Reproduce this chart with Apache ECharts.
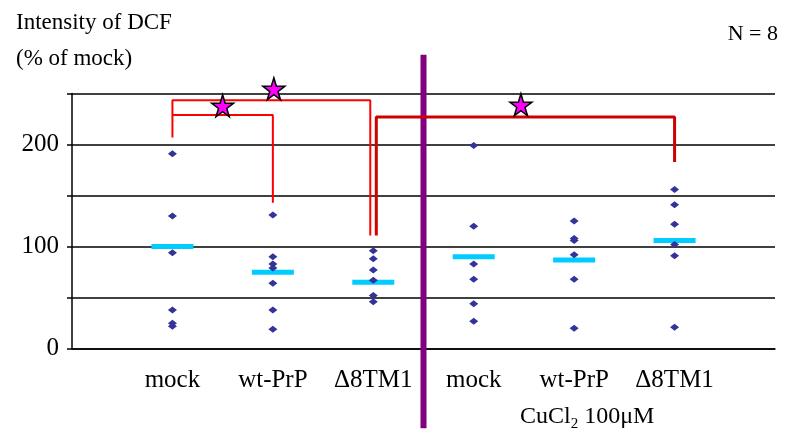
<!DOCTYPE html>
<html>
<head>
<meta charset="utf-8">
<script src="https://cdn.jsdelivr.net/npm/echarts@6/dist/echarts.min.js"></script>
<style>html,body{margin:0;padding:0;background:#fff;}#c{width:785px;height:433px;}</style>
</head>
<body>
<div id="c"></div>
<script>
const categories = ['mock', 'wt-PrP', 'Δ8TM1', 'mock', 'wt-PrP', 'Δ8TM1'];
const groupMock = [191, 130, 94, 38, 25, 22];
const groupWt = [131, 90, 83, 79, 64, 38, 19];
const groupD8 = [96, 88, 77, 67, 52, 46];
const groupMockCu = [199, 120, 83, 68, 44, 27];
const groupWtCu = [125, 108, 106, 92, 68, 20];
const groupD8Cu = [156, 141, 122, 102, 91, 21];
const means = [100, 75, 65, 90, 87, 106];
const yTickLabels = ['0', '100', '200'];
const bracketOuter = [[0, 207], [0, 243.5], [1.97, 243.5], [1.97, 111]];
const bracketInner = [[0, 229], [1, 229], [1, 143]];
const bracketCu = [[2.03, 111], [2.03, 226.9], [5, 226.9], [5, 183]];
const stars = [[0.5, 238], [1.01, 254.6], [3.47, 239]];
const divider = [[2.5, 288], [2.5, -78]];

const groups = [groupMock, groupWt, groupD8, groupMockCu, groupWtCu, groupD8Cu];
const dots = [];
groups.forEach((g, i) => g.forEach(v => dots.push([i, v])));
const meanPts = means.map((v, i) => [i, v]);

const serif = '"Liberation Serif", "Times New Roman", serif';
const chart = echarts.init(document.getElementById('c'));
chart.setOption({
  animation: false,
  backgroundColor: '#ffffff',
  title: [
    { text: 'Intensity of DCF\n(% of mock)', left: 11, top: 0,
      textStyle: { fontFamily: serif, fontSize: 23, fontWeight: 'normal', color: '#000', lineHeight: 36 } },
    { text: 'N = 8', right: 2, top: 18,
      textStyle: { fontFamily: serif, fontSize: 22, fontWeight: 'normal', color: '#000' } }
  ],
  grid: { left: 72, right: 10, top: 93.5, bottom: 84.3 },
  xAxis: {
    type: 'value', min: -1, max: 6, interval: 1,
    splitLine: { show: false },
    axisLine: { show: true, onZero: false, lineStyle: { color: '#000', width: 1.5 } },
    axisTick: { show: false },
    axisLabel: {
      margin: 13,
      fontFamily: serif, fontSize: 25, color: '#000',
      formatter: function (v) {
        if (v < 0 || v > 5) return '';
        const name = '{a|' + categories[v] + '}';
        if (v === 4) return name + '\n{p|CuCl}{s|2}{c| 100μM}';
        return name;
      },
      rich: {
        a: { fontFamily: serif, fontSize: 25, color: '#000', lineHeight: 37 },
        p: { fontFamily: serif, fontSize: 24, color: '#000', lineHeight: 37, padding: [0, 0, 0, 26] },
        c: { fontFamily: serif, fontSize: 24, color: '#000', lineHeight: 37 },
        s: { fontFamily: serif, fontSize: 15, color: '#000', lineHeight: 37, padding: [13, 0, 0, 0] }
      }
    }
  },
  yAxis: {
    type: 'value', min: 0, max: 250, interval: 50,
    axisLine: { show: true, onZero: false, lineStyle: { color: '#000', width: 1.5 } },
    axisTick: { show: true, length: 5, lineStyle: { color: '#000', width: 1.5 } },
    splitLine: { show: true, lineStyle: { color: '#000', width: 1.5 } },
    axisLabel: {
      margin: 13, fontFamily: serif, fontSize: 25, color: '#000',
      formatter: function (v) { return yTickLabels.indexOf(String(v)) >= 0 ? String(v) : ''; }
    }
  },
  series: [
    { type: 'line', data: divider, symbol: 'none', clip: false, z: 3,
      lineStyle: { color: '#800080', width: 6 } },
    { type: 'line', data: bracketOuter, symbol: 'none', clip: false, z: 4,
      lineStyle: { color: '#ff0000', width: 2 } },
    { type: 'line', data: bracketInner, symbol: 'none', clip: false, z: 4,
      lineStyle: { color: '#ff0000', width: 2 } },
    { type: 'line', data: bracketCu, symbol: 'none', clip: false, z: 4,
      lineStyle: { color: '#d00000', width: 3 } },
    { type: 'scatter', data: meanPts, symbol: 'rect', symbolSize: [42, 5], z: 5,
      itemStyle: { color: '#00ccff', opacity: 1 } },
    { type: 'scatter', data: dots, symbol: 'diamond', symbolSize: [9, 7], z: 6,
      itemStyle: { color: '#333399', opacity: 1 } },
    { type: 'scatter', data: stars, clip: false, z: 7,
      symbol: 'path://M50,0 L61,35 L98,35 L68,57 L79,91 L50,70 L21,91 L32,57 L2,35 L39,35 Z',
      symbolSize: 22,
      itemStyle: { color: '#ff00ff', borderColor: '#000', borderWidth: 1.5, opacity: 1 } }
  ]
});
</script>
</body>
</html>
